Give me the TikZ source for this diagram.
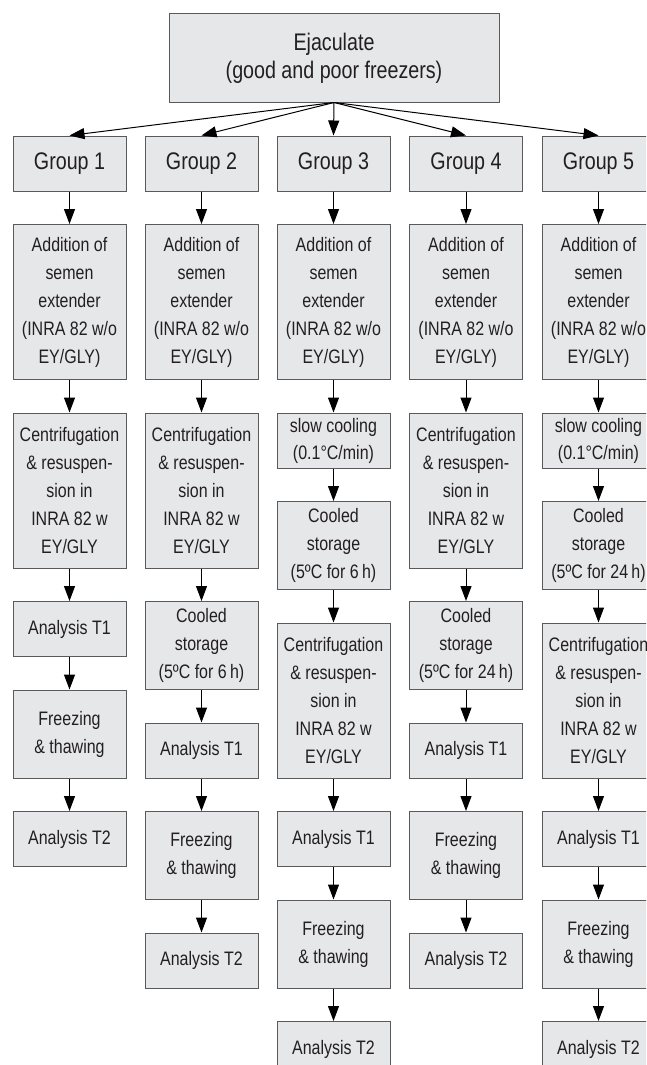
\documentclass[tikz,border=0pt]{standalone}
\usepackage{fontspec}
\setmainfont[FakeStretch=0.82]{Liberation Sans}
\usetikzlibrary{positioning,arrows.meta}

\definecolor{boxfill}{RGB}{230,231,232}
\definecolor{boxline}{RGB}{90,90,92}
\definecolor{ink}{RGB}{35,31,32}

\newcommand{\addtxt}{Addition of\\semen\\extender\\(INRA 82 w/o\\EY/GLY)}
\newcommand{\centxt}{Centrifugation\\\& resuspen-\\sion in\\INRA 82 w\\EY/GLY}

\begin{document}
\begin{tikzpicture}[x=1pt, y=-1pt,
  >={Triangle[length=15pt,width=11pt]},
  proc/.style={draw=boxline, line width=1pt, fill=boxfill, text=ink,
    align=center, minimum width=113pt, inner xsep=2pt, inner ysep=3pt,
    font=\fontsize{19.5}{28}\selectfont},
  proc1/.style={proc, minimum height=55pt},
  proc2/.style={proc, minimum height=88pt},
  proc5/.style={proc, minimum height=155pt},
  grp/.style={proc1, font=\fontsize{24}{28}\selectfont},
  link/.style={->, line width=1pt, draw=black},
  node distance=32.5pt]
\useasboundingbox (0,0) rectangle (646,1065);
\clip (0,0) rectangle (646,1065);

\node[proc, minimum width=330pt, minimum height=88pt,
  font=\fontsize{24}{28}\selectfont] (ejac) at (334,58)
  {Ejaculate\\(good and poor freezers)};

\node[grp] (g1) at (69.5,163.5) {Group 1};
\node[grp] (g2) at (201.5,163.5) {Group 2};
\node[grp] (g3) at (333.5,163.5) {Group 3};
\node[grp] (g4) at (466,163.5) {Group 4};
\node[grp] (g5) at (598.5,163.5) {Group 5};

% group 1
\node[proc5, below=of g1] (add1) {\addtxt};
\node[proc5, below=of add1] (cen1) {\centxt};
\node[proc1, below=of cen1] (ta1) {Analysis T1};
\node[proc2, below=of ta1] (frz1) {Freezing\\\& thawing};
\node[proc1, below=of frz1] (tb1) {Analysis T2};

% group 2
\node[proc5, below=of g2] (add2) {\addtxt};
\node[proc5, below=of add2] (cen2) {\centxt};
\node[proc2, below=of cen2] (cool2) {Cooled\\storage\\(5ºC for 6\,h)};
\node[proc1, below=of cool2] (ta2) {Analysis T1};
\node[proc2, below=of ta2] (frz2) {Freezing\\\& thawing};
\node[proc1, below=of frz2] (tb2) {Analysis T2};

% group 3
\node[proc5, below=of g3] (add3) {\addtxt};
\node[proc1, below=of add3, font=\fontsize{19.5}{27}\selectfont] (slow3)
  {slow cooling\\(0.1°C/min)};
\node[proc2, below=of slow3] (cool3) {Cooled\\storage\\(5ºC for 6\,h)};
\node[proc5, below=of cool3] (cen3) {\centxt};
\node[proc1, below=of cen3] (ta3) {Analysis T1};
\node[proc2, below=of ta3] (frz3) {Freezing\\\& thawing};
\node[proc1, below=of frz3] (tb3) {Analysis T2};

% group 4
\node[proc5, below=of g4] (add4) {\addtxt};
\node[proc5, below=of add4] (cen4) {\centxt};
\node[proc2, below=of cen4] (cool4) {Cooled\\storage\\(5ºC for 24\,h)};
\node[proc1, below=of cool4] (ta4) {Analysis T1};
\node[proc2, below=of ta4] (frz4) {Freezing\\\& thawing};
\node[proc1, below=of frz4] (tb4) {Analysis T2};

% group 5
\node[proc5, below=of g5] (add5) {\addtxt};
\node[proc1, below=of add5, font=\fontsize{19.5}{27}\selectfont] (slow5)
  {slow cooling\\(0.1°C/min)};
\node[proc2, below=of slow5] (cool5) {Cooled\\storage\\(5ºC for 24\,h)};
\node[proc5, below=of cool5] (cen5) {\centxt};
\node[proc1, below=of cen5] (ta5) {Analysis T1};
\node[proc2, below=of ta5] (frz5) {Freezing\\\& thawing};
\node[proc1, below=of frz5] (tb5) {Analysis T2};

\foreach \g in {g1, g2, g3, g4, g5}
  \draw[link] (ejac.south) -- (\g.north);
\foreach \a/\b in {g1/add1, add1/cen1, cen1/ta1, ta1/frz1, frz1/tb1,
    g2/add2, add2/cen2, cen2/cool2, cool2/ta2, ta2/frz2, frz2/tb2,
    g3/add3, add3/slow3, slow3/cool3, cool3/cen3, cen3/ta3, ta3/frz3, frz3/tb3,
    g4/add4, add4/cen4, cen4/cool4, cool4/ta4, ta4/frz4, frz4/tb4,
    g5/add5, add5/slow5, slow5/cool5, cool5/cen5, cen5/ta5, ta5/frz5, frz5/tb5}
  \draw[link] (\a) -- (\b);
\end{tikzpicture}
\end{document}
